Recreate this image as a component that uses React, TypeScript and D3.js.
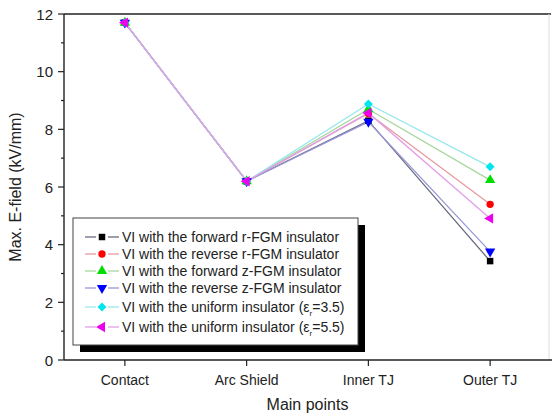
import React from "react";
import * as d3 from "d3";

const categories = ["Contact", "Arc Shield", "Inner TJ", "Outer TJ"];
const seriesNames = [
  "VI with the forward r-FGM insulator",
  "VI with the reverse r-FGM insulator",
  "VI with the forward z-FGM insulator",
  "VI with the reverse z-FGM insulator",
  "VI with the uniform insulator (",
  "VI with the uniform insulator (",
];
const seriesEps = ["", "", "", "", "=3.5)", "=5.5)"];
const forwardR = [11.7, 6.2, 8.3, 3.43];
const reverseR = [11.7, 6.2, 8.55, 5.4];
const forwardZ = [11.7, 6.2, 8.7, 6.24];
const reverseZ = [11.7, 6.2, 8.26, 3.76];
const uniform35 = [11.7, 6.2, 8.88, 6.7];
const uniform55 = [11.7, 6.2, 8.57, 4.91];
const yTicks = [0, 2, 4, 6, 8, 10, 12];
const yMinor = [1, 3, 5, 7, 9, 11];

const colors = ["#000000", "#ff0000", "#00dd00", "#0000ff", "#00e5ee", "#ee00ee"];
const lineColors = ["#6a6a80", "#e89aa0", "#a8d8a0", "#9898d8", "#98e8ea", "#e0a0e8"];
const symbols = [
  d3.symbolSquare,
  d3.symbolCircle,
  d3.symbolTriangle,
  d3.symbolTriangle,
  d3.symbolSquare,
  d3.symbolTriangle,
];
const rotations = [0, 0, 0, 180, 45, -90];
const symSizes = [42, 42, 46, 46, 40, 46];

const allSeries = [forwardR, reverseR, forwardZ, reverseZ, uniform35, uniform55];

export default function App() {
  const W = 553, H = 418;
  const left = 64, right = 551, top = 14, bottom = 360;
  const x = d3.scalePoint<string>().domain(categories).range([left, right]).padding(0.5);
  const y = d3.scaleLinear().domain([0, 12]).range([bottom, top]);
  const line = d3.line<number>().x((_, i) => x(categories[i])!).y((d) => y(d));
  const font = "Arial, 'Liberation Sans', sans-serif";

  const legX = 73, legY = 218, legW = 285, legH = 127;
  const rowY = [237, 254, 271, 288, 307, 327];

  return (
    <svg width={W} height={H} style={{ position: "absolute", left: 0, top: 0, background: "#fff" }} fontFamily={font}>
      <rect x={0} y={0} width={W} height={H} fill="#fff" />
      {/* frame */}
      <line x1={left} x2={right} y1={top} y2={top} stroke="#222" strokeWidth={1.6} />
      <line x1={right - 2} x2={right - 2} y1={top} y2={bottom} stroke="#ddd" strokeWidth={1} />
      <line x1={left} x2={left} y1={top} y2={bottom} stroke="#222" strokeWidth={1.4} />
      <line x1={left} x2={right + 1} y1={bottom} y2={bottom} stroke="#222" strokeWidth={1.4} />
      {yTicks.map((t) => (
        <g key={"yt" + t}>
          <line x1={left - 6} x2={left} y1={y(t)} y2={y(t)} stroke="#222" strokeWidth={1.2} />
          <text x={left - 11} y={y(t) + 5.5} fontSize={15} textAnchor="end" fill="#222">{t}</text>
        </g>
      ))}
      {yMinor.map((t) => (
        <line key={"ym" + t} x1={left - 3} x2={left} y1={y(t)} y2={y(t)} stroke="#222" strokeWidth={1.2} />
      ))}
      {categories.map((c) => (
        <g key={c}>
          <line x1={x(c)!} x2={x(c)!} y1={bottom} y2={bottom + 6} stroke="#222" strokeWidth={1.2} />
          <text x={x(c)!} y={bottom + 25} fontSize={14} textAnchor="middle" fill="#222">{c}</text>
        </g>
      ))}
      <text x={(left + right) / 2} y={410} fontSize={16} textAnchor="middle" fill="#222">Main points</text>
      <text transform={`translate(21, ${(top + bottom) / 2}) rotate(-90)`} fontSize={16} textAnchor="middle" fill="#222">
        Max. E-field (kV/mm)
      </text>
      {/* series lines */}
      {allSeries.map((s, i) => (
        <path key={"l" + i} d={line(s)!} fill="none" stroke={lineColors[i]} strokeWidth={1.3} />
      ))}
      {allSeries.map((s, i) =>
        s.map((v, j) => (
          <path
            key={"m" + i + "-" + j}
            d={d3.symbol().type(symbols[i]).size(symSizes[i])()!}
            transform={`translate(${x(categories[j])}, ${y(v)}) rotate(${rotations[i]})`}
            fill={colors[i]}
          />
        ))
      )}
      {/* legend */}
      <rect x={legX + 7} y={legY + 7} width={legW} height={legH} fill="#000" />
      <rect x={legX} y={legY} width={legW} height={legH} fill="#fff" stroke="#444" strokeWidth={1} />
      {seriesNames.map((n, i) => (
        <g key={"lg" + i}>
          <line x1={85} x2={96} y1={rowY[i]} y2={rowY[i]} stroke={lineColors[i]} strokeWidth={1.3} />
          <line x1={108} x2={119} y1={rowY[i]} y2={rowY[i]} stroke={lineColors[i]} strokeWidth={1.3} />
          <path
            d={d3.symbol().type(symbols[i]).size(symSizes[i])()!}
            transform={`translate(102, ${rowY[i]}) rotate(${rotations[i]})`}
            fill={colors[i]}
          />
          <text x={122} y={rowY[i] + 5} fontSize={14} fill="#222">
            {n}
            {seriesEps[i] && (
              <>
                <tspan>ε</tspan>
                <tspan fontSize={8} dy={4}>r</tspan>
                <tspan dy={-4}>{seriesEps[i]}</tspan>
              </>
            )}
          </text>
        </g>
      ))}
    </svg>
  );
}
